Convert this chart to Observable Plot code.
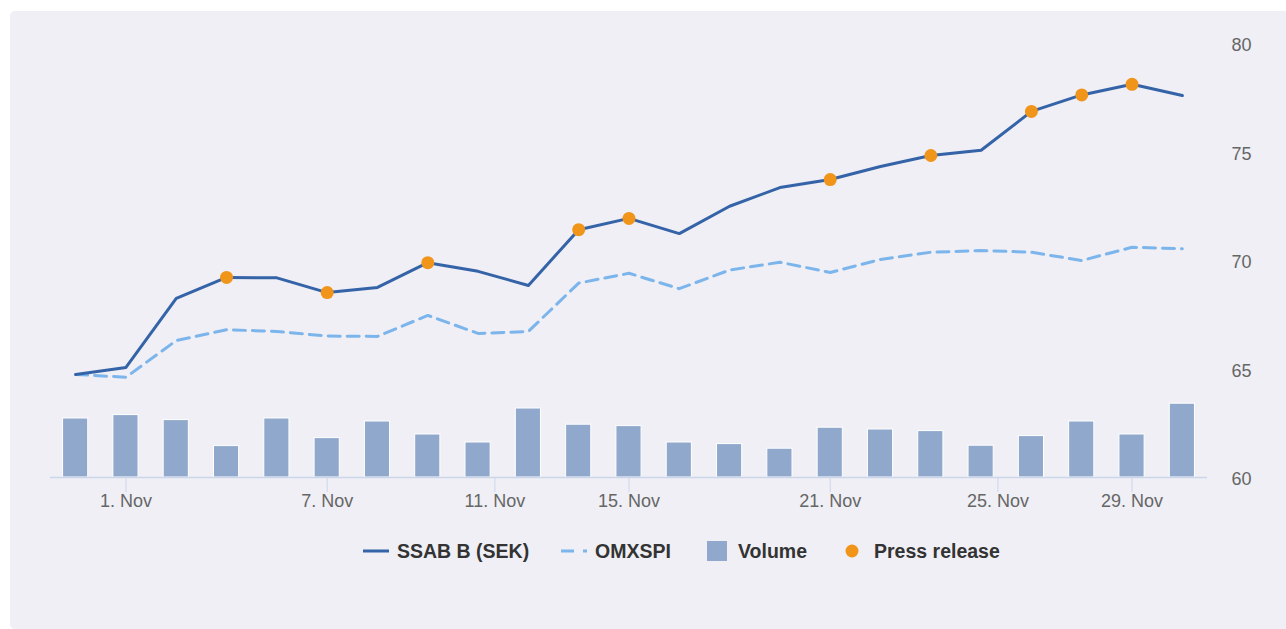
<!DOCTYPE html>
<html>
<head>
<meta charset="utf-8">
<script src="https://cdn.jsdelivr.net/npm/d3@7"></script>
<script src="https://cdn.jsdelivr.net/npm/@observablehq/plot@0.6"></script>
<style>
  html, body { margin: 0; padding: 0; background: #ffffff; width: 1286px; height: 629px; overflow: hidden; }
  body { font-family: "Liberation Sans", Arial, Helvetica, sans-serif; position: relative; }
  #panel { position: absolute; left: 10px; top: 11px; width: 1290px; height: 618px; background: #efeff5; border-radius: 5px; }
  #chart { position: absolute; left: -0.5px; top: 0; }
  .item { position: absolute; top: 539px; height: 24px; display: flex; align-items: center; font-weight: bold; font-size: 19.5px; color: #333333; white-space: nowrap; }
  .item svg { display: block; }
</style>
</head>
<body>
<div id="panel"><div id="chart"></div></div>
<div id="legend"></div>
<script>
// ---- data (SSAB B, November 2023, trading days) ----
const dates = [
  "2023-10-31","2023-11-01","2023-11-02","2023-11-03","2023-11-06","2023-11-07",
  "2023-11-08","2023-11-09","2023-11-10","2023-11-13","2023-11-14","2023-11-15",
  "2023-11-16","2023-11-17","2023-11-20","2023-11-21","2023-11-22","2023-11-23",
  "2023-11-24","2023-11-27","2023-11-28","2023-11-29","2023-11-30"
];
const ssab = [
  64.75, 65.07, 68.25, 69.22, 69.20, 68.52,
  68.76, 69.90, 69.50, 68.85, 71.42, 71.94,
  71.24, 72.50, 73.36, 73.73, 74.33, 74.84,
  75.08, 76.87, 77.63, 78.12, 77.60
];
const omxspi = [
  64.75, 64.62, 66.31, 66.81, 66.73, 66.52,
  66.50, 67.47, 66.64, 66.73, 68.96, 69.41,
  68.70, 69.56, 69.92, 69.45, 70.05, 70.38,
  70.46, 70.38, 70.00, 70.61, 70.54
];
// volume, millions of shares (hidden secondary axis, 0 .. 21.7 M)
const volume = [
  2.95, 3.12, 2.87, 1.57, 2.95, 1.97,
  2.80, 2.15, 1.75, 3.45, 2.64, 2.57,
  1.75, 1.67, 1.44, 2.49, 2.40, 2.32,
  1.59, 2.07, 2.80, 2.15, 3.69
];
const volumeAxisMax = 21.7;
const pressReleaseDates = [
  "2023-11-03","2023-11-07","2023-11-09","2023-11-14","2023-11-15",
  "2023-11-21","2023-11-23","2023-11-27","2023-11-28","2023-11-29"
];
const tickDates = ["2023-11-01","2023-11-07","2023-11-11","2023-11-15","2023-11-21","2023-11-25","2023-11-29"];
const tickLabels = ["1. Nov","7. Nov","11. Nov","15. Nov","21. Nov","25. Nov","29. Nov"];
const priceTicks = [60, 65, 70, 75, 80];

// ---- derived ----
const priceMin = 60, priceMax = 80;
const rows = dates.map((d, i) => ({
  i, date: d, ssab: ssab[i], omx: omxspi[i], vol: volume[i],
  press: pressReleaseDates.includes(d)
}));
const times = dates.map(d => +new Date(d + "T00:00:00Z"));
// ordinal (trading-day) position of any calendar date
function ordinalPos(ds) {
  const t = +new Date(ds + "T00:00:00Z");
  for (let j = 0; j < times.length - 1; j++) {
    if (t >= times[j] && t <= times[j + 1]) return j + (t - times[j]) / (times[j + 1] - times[j]);
  }
  return t < times[0] ? 0 : times.length - 1;
}
const tickPos = tickDates.map(ordinalPos);
const labelFor = d => tickLabels[tickPos.indexOf(d)];
const volToPrice = v => priceMin + v / volumeAxisMax * (priceMax - priceMin);

const C_SSAB = "#3563a8", C_OMX = "#7cb5ec", C_VOL = "#8fa8cc", C_PR = "#f0951a";
const FONT = "'Liberation Sans', Arial, Helvetica, sans-serif";

const chart = Plot.plot({
  width: 1276,
  height: 490,
  marginLeft: 40,
  marginRight: 79,
  marginTop: 32,
  marginBottom: 24,
  style: { background: "transparent", overflow: "visible", fontFamily: FONT },
  x: { type: "linear", domain: [-0.5, dates.length - 0.5], label: null },
  y: { domain: [priceMin, priceMax], label: null },
  marks: [
    Plot.rectY(rows, {
      x1: d => d.i - 0.25, x2: d => d.i + 0.25,
      y1: priceMin, y2: d => volToPrice(d.vol),
      fill: C_VOL, stroke: "#ffffff", strokeWidth: 1
    }),
    Plot.ruleY([priceMin], { stroke: "#ccd6eb", strokeWidth: 1.5 }),
    Plot.line(rows, { x: "i", y: "omx", stroke: C_OMX, strokeWidth: 3, strokeDasharray: "12,7", strokeLinejoin: "round" }),
    Plot.line(rows, { x: "i", y: "ssab", stroke: C_SSAB, strokeWidth: 3, strokeLinejoin: "round", strokeLinecap: "round" }),
    Plot.dot(rows.filter(d => d.press), { x: "i", y: "ssab", r: 6.5, fill: C_PR, stroke: "none" }),
    Plot.axisX(tickPos, { tickSize: 15, color: "#ccd6eb", tickFormat: () => "" }),
    Plot.axisX(tickPos, { tickSize: 0, tickPadding: 17, color: "#666666", fontSize: 18, tickFormat: labelFor }),
    Plot.axisY(priceTicks, { anchor: "right", tickSize: 0, tickPadding: 24, color: "#666666", fontSize: 18, dy: 2 })
  ]
});
document.getElementById("chart").appendChild(chart);

// ---- legend ----
const legendItems = [
  { name: "SSAB B (SEK)", kind: "line", left: 363 },
  { name: "OMXSPI", kind: "dash", left: 561 },
  { name: "Volume", kind: "bar", left: 707 },
  { name: "Press release", kind: "dot", left: 840 }
];
const legend = document.getElementById("legend");
for (const it of legendItems) {
  const el = document.createElement("div");
  el.className = "item";
  el.style.left = it.left + "px";
  let sw = "";
  if (it.kind === "line") sw = `<svg width="26" height="20"><line x1="0" x2="26" y1="10" y2="10" stroke="${C_SSAB}" stroke-width="3"/></svg>`;
  if (it.kind === "dash") sw = `<svg width="26" height="20"><line x1="0" x2="26" y1="10" y2="10" stroke="${C_OMX}" stroke-width="3" stroke-dasharray="13,9"/></svg>`;
  if (it.kind === "bar") sw = `<svg width="20" height="20"><rect x="0" y="0" width="20" height="20" fill="${C_VOL}"/></svg>`;
  if (it.kind === "dot") sw = `<svg width="26" height="20"><circle cx="12" cy="10" r="6.5" fill="${C_PR}"/></svg>`;
  const gap = it.kind === "bar" ? 11 : 8;
  el.innerHTML = sw + `<span style="margin-left:${gap}px">${it.name}</span>`;
  legend.appendChild(el);
}
</script>
</body>
</html>
